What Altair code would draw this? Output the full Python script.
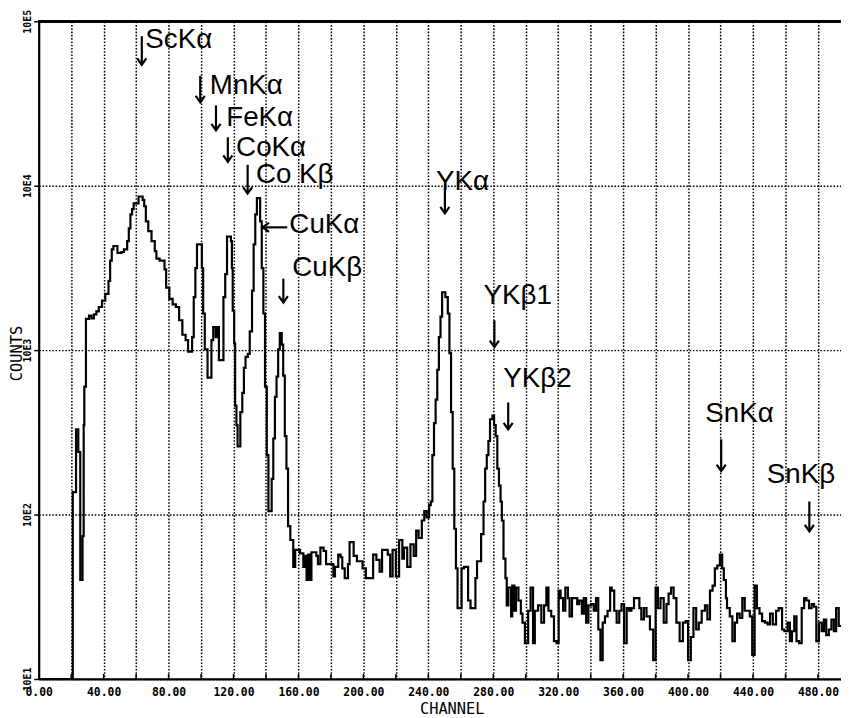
import altair as alt
import pandas as pd

# ---- spectrum (channel where each step starts, counts) ----
ch_a = [0, 21, 23, 24.4, 25.6, 27, 27.7, 28.1, 29.1, 31, 32.5, 34, 35.5, 37, 39, 41, 43, 44, 45, 46,
        48.5, 51, 52.5, 54.5, 55.5, 56.5, 57.5, 58.5, 61.5, 64, 65, 66, 67.5, 69.5, 71.5, 72.5, 74.5,
        77.5, 78.5, 80.5, 82.5, 84.5, 86.5, 88.5, 90.5, 92, 94.5, 95.5, 96.5]
cnt_a = [10, 137, 330, 240, 40, 74, 350, 600, 1550, 1620, 1560, 1650, 1720, 1830, 2000, 2200, 2640,
         3500, 4100, 4300, 3900, 3950, 4100, 4600, 5500, 6700, 7200, 7800, 8600, 8200, 7500, 6070,
         5300, 4600, 4000, 3600, 3500, 3100, 2400, 2050, 1900, 1830, 1520, 1240, 1150, 980, 1200,
         2100, 3150]

ch_b = [97.5, 100.5, 101.3, 102.3, 104, 106.4, 107.5, 109, 110, 111, 113.8, 114.9, 116, 118.4, 119,
        119.5, 120.4, 121, 121.8, 122.5, 124.2, 125.4, 126.4, 127.4, 128.8, 130, 131.4, 132.4, 133.4,
        134.4, 136.4, 137.4, 138.4, 139.4, 140.5, 141.5, 143.5, 144.5, 145.5, 146.5, 147.5, 148.5,
        149.7, 150.6, 151.6, 152.6, 153.6, 155]
cnt_b = [4400, 3150, 1670, 1010, 680, 1150, 1380, 1200, 1380, 870, 2100, 2900, 4900, 4600, 3150,
         1740, 1100, 460, 350, 260, 420, 550, 780, 910, 950, 1300, 2300, 4400, 6700, 8400, 6070,
         3150, 1670, 600, 230, 105, 165, 290, 520, 690, 1010, 1270, 1080, 700, 300, 190, 85, 70]

ch_c = [156.8, 158, 161, 163, 164, 165, 166, 167, 168, 171, 172, 173.5, 175.5, 177, 181.5, 182.5,
        184.5, 186, 187, 188.5, 190.5, 191.5, 194, 196, 199.5, 201.5, 206, 208, 210, 211.5, 215,
        216.5, 218, 220, 222, 224, 225, 227, 229, 231, 232.5, 234, 236, 237.5, 239, 240.5]
cnt_c = [48, 61, 58, 48, 56, 40, 57, 40, 59, 56, 50, 63, 60, 50, 42, 48, 57, 55, 47, 41, 50, 68, 56,
         52, 47, 41, 57, 53, 45, 61, 57, 42, 61, 42, 70, 54, 63, 48, 66, 56, 80, 72, 92, 105, 96, 114]

ch_d = [241.5, 242.5, 243.5, 244.5, 245.5, 246.5, 247.5, 248.5, 250.5, 252, 253, 254, 255, 256, 257,
        258, 260.5, 262, 264.5, 266, 269, 270, 272.5, 274, 275, 276, 277, 278, 279.5, 280.5, 281.5,
        282.5, 283.5, 284.5, 285.3, 286.3, 287.5, 288.3, 289.3, 291, 291.7, 293, 294, 295.5, 297,
        298, 299.5, 301.5, 303, 304.5, 305.6, 307.6, 309.6, 311.3, 312.7, 314, 315.7, 317.4]
cnt_d = [120, 230, 360, 500, 760, 1200, 1600, 2250, 2100, 1670, 960, 420, 190, 82, 47, 27, 47, 48,
         30, 27, 41, 52, 76, 120, 190, 230, 280, 380, 400, 350, 300, 190, 150, 120, 92, 54, 41, 28,
         36, 24, 37, 26, 36, 30, 25, 22, 16.5, 26, 36, 16.5, 26, 28, 22, 28, 36, 26, 24, 17]

ch_e = [319, 320.3, 321.5, 323, 324.4, 326, 327, 328.5, 331.7, 333, 334.6, 335.8, 337.2, 338.6, 340.3,
        341.9, 343.3, 344.7, 346, 347.4, 348.8, 350.4, 352, 353, 354.5, 356, 357.6, 359, 360.6, 362.2,
        363.7, 365.1, 366.7, 368.3, 370, 371.2, 372.8, 374.4, 376.5, 378.5, 380, 381.4, 383, 385,
        386.7, 388, 389.5, 391.1, 392.8, 394.8, 396.8, 398.5, 400, 401.7, 403.3, 405, 406.6, 408.4,
        410.4, 411.9, 413.5, 415.1, 416.5, 418, 419.6, 421, 422, 423.3, 424, 425.7, 427.3, 428.8,
        430.2, 431.8, 433.4, 434.9, 436.3, 438, 439.5, 441, 442.4, 444, 445.6, 447.3, 449, 450.5,
        452.2, 454.2, 455.8, 457.9, 459.3, 461.3, 462.7, 464, 465.4, 466.8, 468.4, 470, 471.5, 472.9,
        474.5, 476.1, 477.6, 479, 480.6, 482.3, 483.7, 485.1, 486.7, 488.3, 489.8, 491.2, 492.8, 494.2]
cnt_e = [16.5, 34.5, 31, 26, 36, 31, 24, 31, 28.5, 30, 25, 31, 22, 28, 28.5, 26, 31, 20, 13, 22,
         24, 26, 36, 34.5, 26, 22, 26, 28.5, 16.5, 27, 26, 27, 31, 31, 27, 23, 27, 24, 20, 13,
         36, 27, 31, 22, 28.5, 33, 36, 31, 22, 17, 22, 22.5, 13, 18, 27, 20, 22, 26, 28, 23,
         34.5, 37, 47, 49, 57, 47, 40, 31, 27, 24, 17, 22, 25, 23.5, 31, 26, 26, 24, 14, 37,
         27, 25, 22.5, 22, 21.5, 25, 21.5, 26, 27, 20, 19.5, 22, 17, 19.5, 24, 17, 16.5, 27, 31, 30,
         27, 28.5, 27.5, 17, 22, 19.5, 23, 18.5, 20, 23, 19.5, 27, 21, 21]

channels = ch_a + ch_b + ch_c + ch_d + ch_e
counts = cnt_a + cnt_b + cnt_c + cnt_d + cnt_e
assert len(channels) == len(counts)

# ---- hand-written annotations ----
label_text = ["ScKα", "MnKα", "FeKα", "CoKα", "Co Kβ", "CuKα", "CuKβ",
              "YKα", "YKβ1", "YKβ2", "SnKα", "SnKβ"]
label_ch = [65.7, 105.4, 115.5, 121.6, 133.8, 154.4, 156.2, 244.7, 274.0, 286.2, 410.6, 448.5]
label_cnt = [76900, 40400, 25700, 17000, 11650, 5740, 3160, 10570, 2140, 669, 406, 174]

arrow_ch = [63.5, 99.5, 109.2, 116.5, 128.7, 150.7, 250.2, 280.7, 289.2, 420.4, 474.7]
arrow_top = [81200, 46600, 30800, 19700, 13400, 2720, 9590, 1517, 480, 287, 120]
arrow_bottom = [54300, 32100, 21700, 13950, 8950, 1945, 6780, 1042, 330, 184, 79]

# left-pointing arrow for CuKα
harrow_ch = [137.9]
harrow_ch2 = [153.1]
harrow_cnt = [5580]

x_grid = list(range(0, 500, 20))
x_inner_ticks = list(range(20, 500, 20))
y_ticks = [10, 100, 1000, 10000, 100000]

W, H = 810, 664
MONO = "DejaVu Sans Mono"

xs = alt.Scale(domain=[0, 494.2], nice=False, zero=False)
ys = alt.Scale(type="log", domain=[10, 100000], nice=False)

GRID = dict(grid=True, gridColor="black", gridDash=[1.6, 1.7], gridWidth=1.5, gridOpacity=1)

x_axis = alt.Axis(
    values=x_grid,
    labelExpr="datum.value % 40 === 0 ? format(datum.value, '.2f') : ''",
    title="CHANNEL", titleFont=MONO, titleFontSize=15.5, titleFontWeight="normal",
    titleX=417, titleY=35, titleBaseline="alphabetic", titleAlign="center",
    labelFont=MONO, labelFontSize=11.5, labelFontWeight="bold", labelColor="black",
    labelPadding=8, labelOverlap=False, labelFlush=False, labelBound=False,
    ticks=False, domainColor="black", domainWidth=2.2, **GRID,
)
y_axis = alt.Axis(
    values=y_ticks,
    labelExpr="'10E' + format(round(log(datum.value) / LN10), 'd')",
    labelAngle=270, labelAlign="center", labelBaseline="bottom",
    labelFont=MONO, labelFontSize=10, labelFontWeight="bold", labelColor="black",
    labelPadding=1, tickSize=5, tickColor="black", tickWidth=1.5,
    title="COUNTS", titleFont=MONO, titleFontSize=15.5, titleFontWeight="normal",
    titleAngle=270, titleX=-17, titleY=335, titleAlign="center", titleBaseline="alphabetic",
    domainColor="black", domainWidth=2.2, **GRID,
)

spec_df = pd.DataFrame({"channel": channels, "counts": counts})
lab_df = pd.DataFrame({"channel": label_ch, "counts": label_cnt, "text": label_text})
arr_df = pd.DataFrame({"channel": arrow_ch, "counts": arrow_top, "bottom": arrow_bottom})
harr_df = pd.DataFrame({"channel": harrow_ch, "ch2": harrow_ch2, "counts": harrow_cnt})
tick_df = pd.DataFrame({"channel": x_inner_ticks})

X = alt.X("channel:Q", scale=xs, axis=x_axis)
Y = alt.Y("counts:Q", scale=ys, axis=y_axis)

line = alt.Chart(spec_df).mark_line(
    interpolate="step-after", color="black", strokeWidth=2.2, clip=True
).encode(x=X, y=Y)

inner_ticks = alt.Chart(tick_df).mark_rule(color="black", strokeWidth=1.5).encode(
    x=X, y=alt.value(H - 5), y2=alt.value(H)
)

top_border = alt.Chart(tick_df).mark_rule(color="black", strokeWidth=2.6).encode(
    x=alt.value(0), x2=alt.value(W), y=alt.value(0)
)

labels = alt.Chart(lab_df).mark_text(
    align="left", baseline="middle", font="Liberation Sans", fontSize=28, color="black"
).encode(x=X, y=Y, text="text:N")

arrow_shafts = alt.Chart(arr_df).mark_rule(color="black", strokeWidth=2.2).encode(
    x=X, y=Y, y2="bottom:Q"
)
arrow_heads = alt.Chart(arr_df).mark_point(
    shape="M-0.7,-1L0,0L0.7,-1", filled=False, color="black", strokeWidth=2.2, size=170, opacity=1
).encode(x=X, y=alt.Y("bottom:Q", scale=ys, axis=y_axis))

harrow_shaft = alt.Chart(harr_df).mark_rule(color="black", strokeWidth=2.2).encode(
    x=X, x2="ch2:Q", y=Y
)
harrow_head = alt.Chart(harr_df).mark_point(
    shape="M1,-0.7L0,0L1,0.7", filled=False, color="black", strokeWidth=2.2, size=170, opacity=1
).encode(x=X, y=Y)

chart = alt.layer(
    line, inner_ticks, top_border, labels, arrow_shafts, arrow_heads, harrow_shaft, harrow_head
).properties(
    width=W, height=H,
    autosize=alt.AutoSizeParams(type="none"),
    padding={"left": 31, "top": 10, "right": 0, "bottom": 36},
    background="white",
).configure_view(stroke=None)

chart.save("out.html", embed_options={"renderer": "svg", "actions": False})
